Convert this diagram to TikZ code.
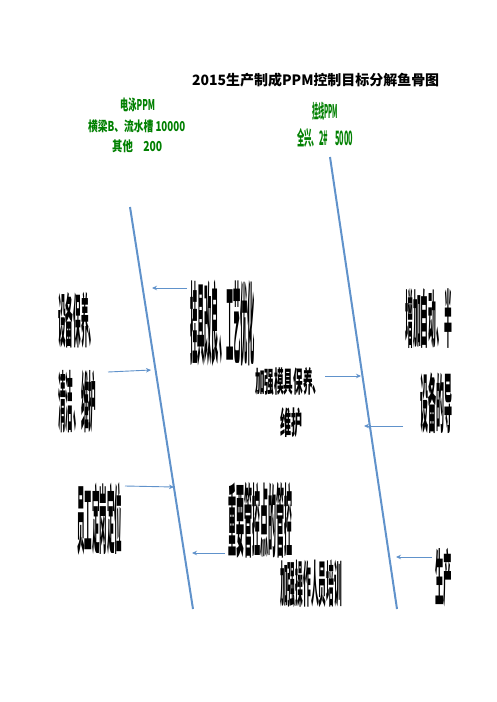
\documentclass[tikz,border=0pt]{standalone}
\usepackage{fontspec}
\usepackage{graphicx}
\usetikzlibrary{arrows.meta}
\newfontfamily\cjk{Noto Sans CJK SC}
\definecolor{Bone}{RGB}{96,146,203}
\definecolor{Green}{RGB}{0,128,0}
\definecolor{Black}{RGB}{0,0,0}
\definecolor{White}{RGB}{255,255,255}
\newcommand{\stretchText}[3]{\resizebox*{#1pt}{#2pt}{\cjk\bfseries #3}}
\tikzset{
	bone/.style={draw=Bone, line width=2pt},
	rib/.style={-{Stealth[length=5pt, width=4.5pt]}, draw=Bone, line width=0.9pt},
	cause/.style={anchor=north west, inner sep=0pt, color=Black},
	target/.style={anchor=north west, inner sep=0pt, color=Green}
}

\begin{document}
\begin{tikzpicture}[x=1pt, y=-1pt]
		
		\useasboundingbox[fill=White] (0,0) rectangle (496,702);
		
		% Title
		\node[cause] (title) at (192,73) {\stretchText{247}{14}{2015生产制成PPM控制目标分解鱼骨图}};
		
		% Targets
		\node[target] (epTitle) at (120,98) {\stretchText{35}{14}{电泳PPM}};
		\node[target] (epBeam) at (88,120) {\stretchText{97}{13}{横梁B、流水槽 10000}};
		\node[target] (epOther) at (112,140) {\stretchText{50}{13}{其他\quad 200}};
		
		\node[target] (hlTitle) at (312,102) {\stretchText{26}{18}{挂线PPM}};
		\node[target] (hlQx) at (297,128) {\stretchText{56}{19}{全兴、2\#\quad 5000}};
		
		% Bones
		\coordinate (boneA top) at (130,207);
		\coordinate (boneA bottom) at (193,609);
		\coordinate (boneB top) at (330,157);
		\coordinate (boneB bottom) at (397,609);
		\draw[bone] (boneA top) -- (boneA bottom);
		\draw[bone] (boneB top) -- (boneB bottom);
		
		% Causes
		\node[cause] (maint) at (58,292) {\stretchText{38}{56}{设备保养、}};
		\node[cause] (clean) at (58,370) {\stretchText{38}{63}{清洁、维护}};
		\node[cause] (rack) at (190,280) {\stretchText{65}{87}{挂具改良、工艺优化}};
		\node[cause] (mould) at (255,367) {\stretchText{67}{28}{加强模具保养、}};
		\node[cause] (mouldB) at (280,407) {\stretchText{22}{30}{维护}};
		\node[cause] (auto) at (405,288) {\stretchText{47}{60}{增加自动、半}};
		\node[cause] (equip) at (420,372) {\stretchText{32}{61}{设备的导}};
		\node[cause] (staff) at (77,482) {\stretchText{45}{73}{员工定岗定位}};
		\node[cause] (ctrl) at (228,482) {\stretchText{64}{76}{重要管控点的管控}};
		\node[cause] (train) at (280,560) {\stretchText{62}{48}{加强操作人员培训}};
		\node[cause] (prod) at (435,548) {\stretchText{17}{59}{生产}};
		
		% Ribs
		\coordinate (rack tail) at (187,288);
		\coordinate (rack tip) at (152,288);
		\coordinate (clean tail) at (108,372);
		\coordinate (clean tip) at (151,370);
		\coordinate (mould tail) at (325,376);
		\coordinate (mould tip) at (361,376);
		\coordinate (equip tail) at (403,426);
		\coordinate (equip tip) at (364,426);
		\coordinate (staff tail) at (125,486);
		\coordinate (staff tip) at (174,487);
		\coordinate (ctrl tail) at (225,553);
		\coordinate (ctrl tip) at (192,553);
		\coordinate (prod tail) at (432,557);
		\coordinate (prod tip) at (396,557);
		
		\foreach \cause in {rack, clean, mould, equip, staff, ctrl, prod}
			\draw[rib] (\cause\space tail) -- (\cause\space tip);
		
	\end{tikzpicture}
\end{document}
